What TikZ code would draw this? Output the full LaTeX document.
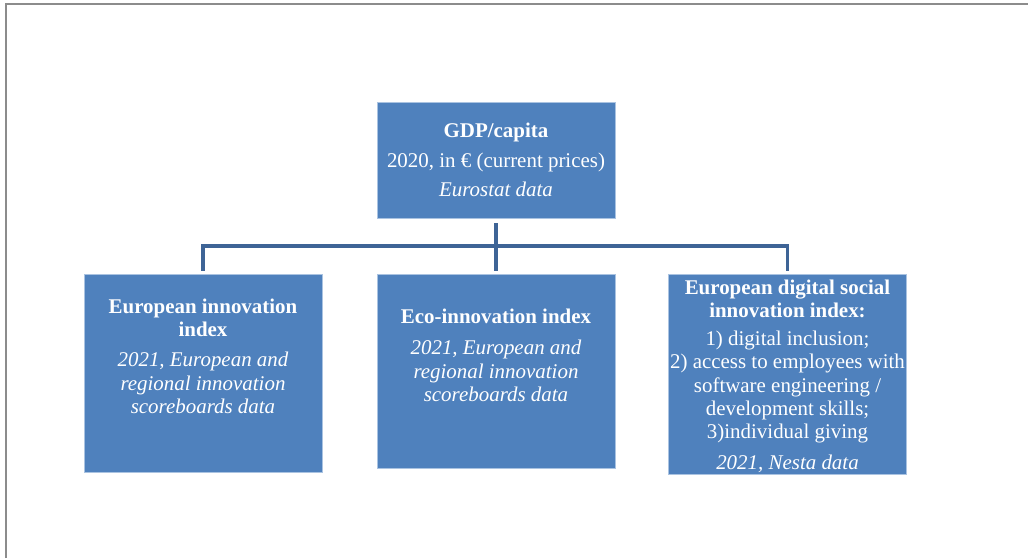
\documentclass[tikz,border=0pt]{standalone}
\usepackage{fontspec}
\setmainfont{Liberation Serif}
\usetikzlibrary{positioning}
\definecolor{boxblue}{RGB}{79,129,189}
\definecolor{boxedge}{RGB}{170,195,225}
\definecolor{linkblue}{RGB}{62,100,150}
\definecolor{framegray}{RGB}{140,140,140}

\begin{document}
\begin{tikzpicture}[x=0.75pt,y=-0.75pt,
  box/.style={draw=boxedge,line width=0.6pt,fill=boxblue,minimum width=178.5pt,inner sep=0pt},
  boxtext/.style={text=white,align=center,inner sep=0pt,font=\fontsize{15.7}{17.6}\selectfont},
  link/.style={draw=linkblue,line width=2.4pt}]
\useasboundingbox (0,0) rectangle (1028,558);
% frame
\coordinate (frameBL) at (6,558);
\coordinate (frameTL) at (6,4);
\coordinate (frameTR) at (1028,4);
\draw[framegray,line width=1.6pt] (frameBL) -- (frameTL) -- (frameTR);

% boxes
\node[box,minimum height=87pt]    (gdp) at (496,160) {};
\node[box,minimum height=148.5pt] (eii) at (203,373) {};
\node[box,minimum height=145.5pt] (eco) at (496,371) {};
\node[box,minimum height=150pt,minimum width=179pt] (dsi) at (787.5,374) {};

% texts
\node[boxtext] (gdpText) at (gdp.center) {\textbf{GDP/capita}\\[4.5pt]
  2020, in € (current prices)\\[4.5pt] \textit{Eurostat data}};
\node[boxtext,yshift=12.4pt] (eiiText) at (eii.center) {\textbf{European innovation}\\
  \textbf{index}\\[5pt] \textit{2021, European and}\\ \textit{regional innovation}\\
  \textit{scoreboards data}};
\node[boxtext,yshift=11.6pt] (ecoText) at (eco.center) {\textbf{Eco-innovation index}\\[6pt]
  \textit{2021, European and}\\ \textit{regional innovation}\\ \textit{scoreboards data}};
\node[boxtext,yshift=-1.5pt] (dsiText) at (dsi.center) {\textbf{European digital social}\\
  \textbf{innovation index:}\\[3pt] 1) digital inclusion;\\ 2) access to employees with\\
  software engineering /\\ development skills;\\ 3)individual giving\\[5pt]
  \textit{2021, Nesta data}};

% connectors
\coordinate (bus) at (496,246);
\draw[link] ([yshift=-3.8pt]gdp.south) -- ([yshift=2.3pt]eco.north);
\draw[link] ([yshift=2.3pt]eii.north) |- (bus) -| ([yshift=2.3pt]dsi.north);
\end{tikzpicture}
\end{document}
